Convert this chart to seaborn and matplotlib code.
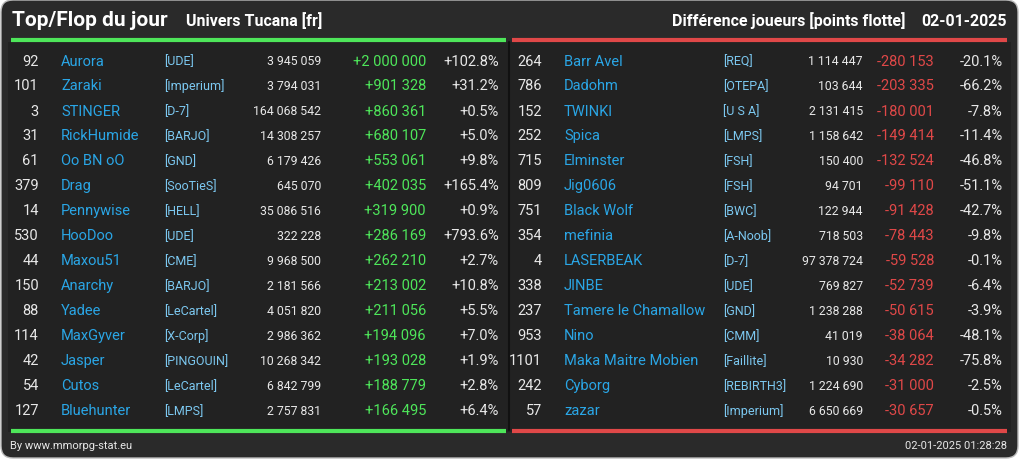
import matplotlib
matplotlib.use("Agg")
import matplotlib.pyplot as plt
import seaborn as sns
from matplotlib.patches import FancyBboxPatch

sns.set_style("dark")
plt.rcParams['font.family'] = ['Roboto', 'DejaVu Sans']

top_rank = [92,101,3,31,61,379,14,530,44,150,88,114,42,54,127]
top_name = ["Aurora","Zaraki","STINGER","RickHumide","Oo BN oO","Drag","Pennywise","HooDoo","Maxou51","Anarchy","Yadee","MaxGyver","Jasper","Cutos","Bluehunter"]
top_ally = ["[UDE]","[Imperium]","[D-7]","[BARJO]","[GND]","[SooTieS]","[HELL]","[UDE]","[CME]","[BARJO]","[LeCartel]","[X-Corp]","[PINGOUIN]","[LeCartel]","[LMPS]"]
top_points = ["3 945 059","3 794 031","164 068 542","14 308 257","6 179 426","645 070","35 086 516","322 228","9 968 500","2 181 566","4 051 820","2 986 362","10 268 342","6 842 799","2 757 831"]
top_diff = ["+2 000 000","+901 328","+860 361","+680 107","+553 061","+402 035","+319 900","+286 169","+262 210","+213 002","+211 056","+194 096","+193 028","+188 779","+166 495"]
top_pct = ["+102.8%","+31.2%","+0.5%","+5.0%","+9.8%","+165.4%","+0.9%","+793.6%","+2.7%","+10.8%","+5.5%","+7.0%","+1.9%","+2.8%","+6.4%"]

flop_rank = [264,786,152,252,715,809,751,354,4,338,237,953,1101,242,57]
flop_name = ["Barr Avel","Dadohm","TWINKI","Spica","Elminster","Jig0606","Black Wolf","mefinia","LASERBEAK","JINBE","Tamere le Chamallow","Nino","Maka Maitre Mobien","Cyborg","zazar"]
flop_ally = ["[REQ]","[OTEPA]","[U S A]","[LMPS]","[FSH]","[FSH]","[BWC]","[A-Noob]","[D-7]","[UDE]","[GND]","[CMM]","[Faillite]","[REBIRTH3]","[Imperium]"]
flop_points = ["1 114 447","103 644","2 131 415","1 158 642","150 400","94 701","122 944","718 503","97 378 724","769 827","1 238 288","41 019","10 930","1 224 690","6 650 669"]
flop_diff = ["-280 153","-203 335","-180 001","-149 414","-132 524","-99 110","-91 428","-78 443","-59 528","-52 739","-50 615","-38 064","-34 282","-31 000","-30 657"]
flop_pct = ["-20.1%","-66.2%","-7.8%","-11.4%","-46.8%","-51.1%","-42.7%","-9.8%","-0.1%","-6.4%","-3.9%","-48.1%","-75.8%","-2.5%","-0.5%"]

W, H = 1019, 460
fig = plt.figure(figsize=(W/100, H/100), dpi=100)
fig.patch.set_facecolor("white")
ax = fig.add_axes([0, 0, 1, 1])
ax.set_xlim(0, W); ax.set_ylim(H, 0); ax.axis("off")

ax.add_patch(FancyBboxPatch((1, 1), W-2, H-2, boxstyle="round,pad=0,rounding_size=12",
                            fc="#2a2a2a", ec="#bbbbbb", lw=1))
ax.add_patch(plt.Rectangle((8, 43), 1003, 390, fc="#222222", ec="none"))
ax.plot([11, 506], [41, 41], color="#4ee65a", lw=3, solid_capstyle="butt")
ax.plot([512, 1007], [41, 41], color="#e04848", lw=3, solid_capstyle="butt")
ax.plot([11, 506], [432, 432], color="#4ee65a", lw=3, solid_capstyle="butt")
ax.plot([512, 1007], [432, 432], color="#e04848", lw=3, solid_capstyle="butt")
ax.plot([509.5, 509.5], [43, 431], color="#111111", lw=1.5)

W_ = "#e8e8e8"
ax.text(12, 20, "Top/Flop du jour", color="white", fontsize=15, fontweight="bold", va="center")
ax.text(186, 21, "Univers Tucana [fr]", color="white", fontsize=11.5, fontweight="bold", va="center")
ax.text(906, 21, "Différence joueurs [points flotte]", color="white", fontsize=11.5, fontweight="bold", va="center", ha="right")
ax.text(1007, 21, "02-01-2025", color="white", fontsize=11.5, fontweight="bold", va="center", ha="right")
ax.text(10, 446, "By www.mmorpg-stat.eu", color=W_, fontsize=8, va="center")
ax.text(1007, 446, "02-01-2025 01:28:28", color=W_, fontsize=8, va="center", ha="right")

def block(ranks, names, allys, pts, diffs, pcts, xs, dcol):
    for i in range(len(ranks)):
        y = 61.5 + 25 * i
        ax.text(xs[0], y, str(ranks[i]), color=W_, fontsize=10.5, ha="right", va="center")
        ax.text(xs[1], y, names[i], color="#2aa6e6", fontsize=10.5, ha="left", va="center")
        ax.text(xs[2], y, allys[i], color="#7cc8f0", fontsize=9, ha="left", va="center")
        ax.text(xs[3], y, pts[i], color=W_, fontsize=8.8, ha="right", va="center")
        ax.text(xs[4], y, diffs[i], color=dcol, fontsize=10.5, ha="right", va="center")
        ax.text(xs[5], y, pcts[i], color=W_, fontsize=10.5, ha="right", va="center")

block(top_rank, top_name, top_ally, top_points, top_diff, top_pct, [39, 61, 164, 321, 426, 499], "#4ee65a")
block(flop_rank, flop_name, flop_ally, flop_points, flop_diff, flop_pct, [542, 564, 723, 863, 934, 1003], "#e04848")

fig.savefig("out.png", dpi=100, facecolor=fig.get_facecolor())
